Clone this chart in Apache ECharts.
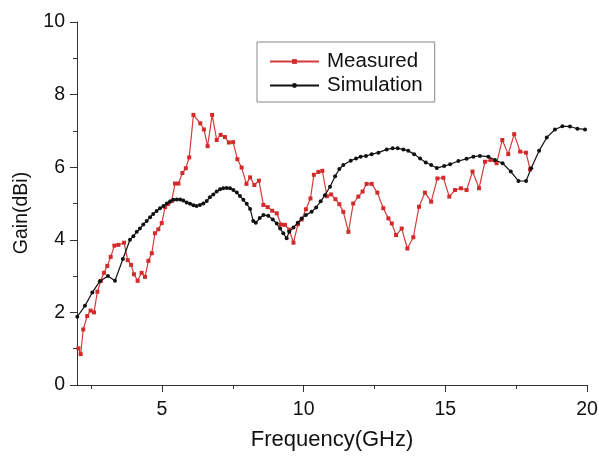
<!DOCTYPE html>
<html>
<head>
<meta charset="utf-8">
<script src="https://cdn.jsdelivr.net/npm/echarts@6/dist/echarts.min.js"></script>
<style>html,body{margin:0;padding:0;background:#fff}#c{width:599px;height:459px}</style>
</head>
<body>
<div id="c"></div>
<script>
// Measured series: [frequency GHz, gain dBi]
const measuredFreq = [2.05,2.13,2.22,2.36,2.48,2.60,2.72,2.84,2.95,3.07,3.19,3.32,3.46,3.66,3.79,3.91,4.01,4.14,4.28,4.40,4.52,4.64,4.75,4.87,4.99,5.11,5.22,5.34,5.46,5.58,5.72,5.84,5.96,6.11,6.35,6.48,6.61,6.77,6.93,7.07,7.22,7.36,7.51,7.66,7.81,7.98,8.11,8.26,8.42,8.58,8.73,8.89,9.05,9.20,9.34,9.49,9.64,9.80,9.93,10.08,10.24,10.36,10.52,10.66,10.82,10.97,11.12,11.26,11.40,11.58,11.75,11.93,12.08,12.22,12.40,12.60,12.81,12.99,13.11,13.26,13.46,13.66,13.87,14.07,14.28,14.50,14.72,14.93,15.14,15.34,15.55,15.75,15.96,16.19,16.40,16.60,16.81,17.01,17.22,17.43,17.64,17.85,17.99];
const measuredGain = [1.01,0.85,1.53,1.90,2.05,2.00,2.57,2.87,3.09,3.28,3.53,3.84,3.86,3.92,3.44,3.31,3.05,2.87,3.09,2.98,3.42,3.63,4.18,4.29,4.46,4.90,4.99,5.07,5.55,5.55,5.84,5.97,6.27,7.44,7.21,7.04,6.58,7.44,6.75,6.89,6.83,6.68,6.69,6.22,5.99,5.54,5.72,5.51,5.63,4.96,4.90,4.80,4.73,4.42,4.41,4.28,3.92,4.43,4.56,4.84,5.14,5.79,5.87,5.90,5.20,5.25,5.12,4.98,4.77,4.22,5.00,5.19,5.33,5.54,5.54,5.30,4.87,4.59,4.45,4.13,4.31,3.76,4.07,4.91,5.30,5.05,5.69,5.71,5.19,5.37,5.42,5.37,5.88,5.42,6.15,6.20,6.11,6.75,6.36,6.91,6.43,6.40,5.94];
// Simulation series
const simFreq = [2.01,2.28,2.54,2.81,3.09,3.34,3.62,3.87,3.99,4.11,4.22,4.34,4.46,4.58,4.69,4.81,4.93,5.05,5.17,5.28,5.40,5.52,5.64,5.75,5.87,5.99,6.11,6.22,6.34,6.46,6.58,6.69,6.81,6.93,7.05,7.16,7.28,7.40,7.52,7.64,7.75,7.87,7.99,8.11,8.22,8.31,8.45,8.58,8.75,8.91,9.05,9.17,9.28,9.40,9.49,9.64,9.79,9.93,10.08,10.28,10.44,10.60,10.75,10.93,11.11,11.26,11.40,11.66,11.85,12.01,12.20,12.40,12.64,12.93,13.14,13.32,13.52,13.69,13.90,14.11,14.31,14.50,14.70,14.96,15.17,15.46,15.75,15.99,16.22,16.52,16.75,17.02,17.31,17.58,17.85,18.03,18.31,18.58,18.87,19.13,19.40,19.66,19.93];
const simGain = [1.88,2.18,2.55,2.86,3.00,2.87,3.47,4.00,4.10,4.22,4.31,4.42,4.52,4.62,4.71,4.79,4.87,4.93,5.00,5.05,5.10,5.11,5.11,5.08,5.03,4.99,4.95,4.93,4.96,5.00,5.07,5.17,5.25,5.33,5.39,5.42,5.43,5.42,5.37,5.30,5.21,5.10,4.99,4.85,4.52,4.47,4.60,4.68,4.66,4.56,4.45,4.31,4.18,4.04,4.22,4.34,4.47,4.59,4.68,4.77,4.89,5.06,5.23,5.46,5.75,5.95,6.06,6.18,6.24,6.29,6.31,6.36,6.40,6.49,6.52,6.52,6.49,6.45,6.36,6.24,6.13,6.06,5.98,6.03,6.08,6.17,6.23,6.29,6.31,6.29,6.20,6.11,5.88,5.62,5.62,5.97,6.45,6.82,7.04,7.13,7.12,7.06,7.04];
const xMajorTicks = [5,10,15,20];
const xMinorTicks = [2.5,7.5,12.5,17.5];
const seriesNames = ['Measured','Simulation'];

const zip = (a,b) => a.map((v,i)=>[v,b[i]]);
const font = '"Liberation Sans", Arial, sans-serif';
const axisColor = '#333';

const chart = echarts.init(document.getElementById('c'), null, {renderer:'canvas'});
chart.setOption({
  animation:false,
  backgroundColor:'#fff',
  grid:{left:77, right:12, top:22, bottom:74, containLabel:false, outerBoundsMode:'none'},
  legend:{
    orient:'vertical', left:257, top:42,
    padding:[9,12,6,12],
    itemGap:3, itemWidth:49, itemHeight:6,
    borderColor:'#888', borderWidth:1,
    textStyle:{fontFamily:font, fontSize:20.5, color:'#111', lineHeight:20, padding:[0,0,0,3]},
    data:seriesNames
  },
  xAxis:[{
    type:'value', min:2, max:20,
    name:'Frequency(GHz)', nameLocation:'middle', nameGap:44,
    nameTextStyle:{fontFamily:font, fontSize:22, color:'#111'},
    axisLine:{show:true, onZero:false, lineStyle:{color:axisColor, width:1}},
    axisTick:{show:true, inside:false, length:7, customValues:xMajorTicks, lineStyle:{color:axisColor}},
    axisLabel:{show:true, margin:15, customValues:xMajorTicks, fontFamily:font, fontSize:19.5, color:'#111'},
    splitLine:{show:false}
  },{
    type:'value', min:2, max:20, position:'bottom',
    axisLine:{show:false},
    axisTick:{show:true, inside:false, length:4, customValues:xMinorTicks, lineStyle:{color:axisColor}},
    axisLabel:{show:false},
    splitLine:{show:false}
  }],
  yAxis:{
    type:'value', min:0, max:10, interval:2,
    name:'Gain(dBi)', nameLocation:'middle', nameGap:45,
    nameTextStyle:{fontFamily:font, fontSize:19.5, color:'#111', padding:[0,19,0,0]},
    axisLine:{show:true, lineStyle:{color:axisColor, width:1}},
    axisTick:{show:true, inside:false, length:7, lineStyle:{color:axisColor}},
    minorTick:{show:true, splitNumber:2, length:4, lineStyle:{color:axisColor}},
    axisLabel:{margin:12, fontFamily:font, fontSize:19.5, color:'#111'},
    splitLine:{show:false}
  },
  series:[{
    name:seriesNames[0], type:'line', xAxisIndex:0,
    data:zip(measuredFreq, measuredGain),
    symbol:'rect', symbolSize:4, showSymbol:true,
    lineStyle:{color:'#d83a3a', width:1.2},
    itemStyle:{color:'#d42a2a'},
    z:3
  },{
    name:seriesNames[1], type:'line', xAxisIndex:0,
    data:zip(simFreq, simGain),
    symbol:'circle', symbolSize:4, showSymbol:true,
    lineStyle:{color:'#111', width:1.2},
    itemStyle:{color:'#111'},
    z:4
  }]
});
</script>
</body>
</html>
